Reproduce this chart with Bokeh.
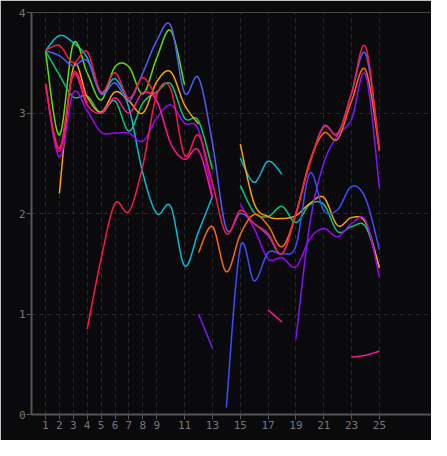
import numpy as np
from bokeh.plotting import figure
from bokeh.models import FixedTicker, Range1d
from bokeh.embed import file_html
from bokeh.resources import INLINE

N = None
x_vals = list(range(1, 26))
x_ticks = [1, 2, 3, 4, 5, 6, 7, 8, 9, 11, 13, 15, 17, 19, 21, 23, 25]
y_ticks = [0, 1, 2, 3, 4]

red_a = [3.62, 3.67, 3.50, 3.61, 3.21, 3.40, 3.15, 3.35, 3.15, N, N, N, N, N, N, N, N, N, N, N, N, N, N, N, N]
red_b = [3.29, 2.62, 3.40, 3.10, N, N, N, N, N, N, N, N, N, N, N, N, N, N, N, N, N, N, N, N, N]
red_c = [N, N, N, 0.85, 1.55, 2.10, 2.02, 2.48, 3.18, 3.24, 2.58, 2.78, 2.30, 1.80, 2.03, 1.90, 1.80, 1.60, 2.00, 2.50, 2.86, 2.80, 3.20, 3.66, 2.62]
blue_a = [3.62, 3.57, 3.47, 3.52, 3.19, 3.30, 3.12, 3.40, 3.72, 3.87, 3.20, 3.35, 2.70, 1.85, 2.00, 1.90, 1.78, 1.60, 2.00, 2.50, 2.87, 2.79, 3.20, 3.59, 2.65]
blue_b = [N, N, N, N, N, N, N, N, N, N, N, N, N, 0.07, 1.66, 1.33, 1.61, 1.60, 1.68, 2.40, 2.03, 2.04, 2.27, 2.15, 1.64]
cyan = [3.62, 3.77, 3.70, 3.55, 3.20, 3.34, 3.05, 2.40, 2.00, 2.07, 1.48, 1.82, 2.17, N, 2.55, 2.31, 2.52, 2.39, N, N, N, N, N, N, N]
lime = [3.62, 2.78, 3.69, 3.40, 3.13, 3.46, 3.46, 3.19, 3.55, 3.82, 3.28, N, N, N, N, N, N, N, N, N, N, N, N, N, N]
teal = [3.62, 3.38, 3.16, 3.17, 3.00, 3.12, 2.82, 3.10, 3.21, 3.29, 2.95, 2.92, 2.44, N, 2.28, 2.01, 1.97, 2.07, 1.91, 2.09, 2.09, 1.82, 1.87, 1.87, 1.46]
orange = [N, 2.20, 3.45, 3.16, 3.01, 3.21, 3.12, 3.00, 3.31, 3.41, 3.08, 2.89, N, N, 2.69, 2.10, 1.97, 1.95, 1.98, 2.10, 2.16, 1.88, 1.96, 1.91, 1.46]
purple = [3.29, 2.56, 3.20, 3.02, 2.81, 2.80, 2.80, 2.72, 2.95, 3.08, 2.90, 2.83, 2.17, N, 2.09, 1.85, 1.55, 1.56, 1.47, 1.75, 1.85, 1.77, 1.90, 1.93, 1.37]
magenta = [3.29, 2.65, 3.38, 3.08, 3.00, 3.15, 3.00, 3.20, 3.12, 2.70, 2.54, 2.63, 2.15, N, N, N, 1.04, 0.92, N, N, N, N, 0.57, 0.59, 0.63]
violet = [N, N, N, N, N, N, N, N, N, N, N, 1.00, 0.66, N, N, N, N, N, 0.75, 1.90, 2.50, 2.78, 2.94, 3.38, 2.25]
dark_orange = [N, N, N, N, N, N, N, N, N, N, N, 1.61, 1.87, 1.42, 1.79, 1.99, 1.88, 1.67, 2.00, 2.52, 2.80, 2.74, 3.12, 3.43, 2.62]

series = [
    (cyan, "#00bcd4"),
    (lime, "#5ee000"),
    (teal, "#00c97a"),
    (orange, "#ffa000"),
    (purple, "#a000ff"),
    (violet, "#7c16ff"),
    (blue_b, "#3d4dff"),
    (blue_a, "#4f5cff"),
    (dark_orange, "#ff6a00"),
    (magenta, "#ff149a"),
    (red_b, "#ff1744"),
    (red_c, "#ff1744"),
    (red_a, "#ff1744"),
]


def catmull(xs, ys, n=24):
    px = [xs[0]] + list(xs) + [xs[-1]]
    py = [ys[0]] + list(ys) + [ys[-1]]
    ox, oy = [], []
    for i in range(1, len(px) - 2):
        p0x, p1x, p2x, p3x = px[i - 1], px[i], px[i + 1], px[i + 2]
        p0y, p1y, p2y, p3y = py[i - 1], py[i], py[i + 1], py[i + 2]
        t = np.linspace(0, 1, n, endpoint=(i == len(px) - 3))
        t2, t3 = t * t, t * t * t
        cx = 0.5 * ((2 * p1x) + (-p0x + p2x) * t + (2 * p0x - 5 * p1x + 4 * p2x - p3x) * t2 + (-p0x + 3 * p1x - 3 * p2x + p3x) * t3)
        cy = 0.5 * ((2 * p1y) + (-p0y + p2y) * t + (2 * p0y - 5 * p1y + 4 * p2y - p3y) * t2 + (-p0y + 3 * p1y - 3 * p2y + p3y) * t3)
        ox.extend(cx.tolist())
        oy.extend(cy.tolist())
    return ox, oy


def runs(values):
    out, cur = [], []
    for xv, yv in zip(x_vals, values):
        if yv is None:
            if len(cur) > 1:
                out.append(cur)
            cur = []
        else:
            cur.append((xv, yv))
    if len(cur) > 1:
        out.append(cur)
    return out


bg = "#0a0a0d"
p = figure(width=431, height=440, output_backend="svg", toolbar_location=None,
           x_range=Range1d(0, 28.74), y_range=Range1d(0, 4),
           min_border_left=31, min_border_right=0, min_border_top=12, min_border_bottom=26)
p.background_fill_color = bg
p.border_fill_color = bg
p.outline_line_color = None

for vals, col in series:
    for r in runs(vals):
        xs, ys = catmull([a for a, b in r], [b for a, b in r])
        p.line(xs, ys, line_color=col, line_width=1.5)

for ax in (p.xaxis[0], p.yaxis[0]):
    ax.axis_line_color = "#555555"
    ax.axis_line_width = 2
    ax.major_tick_line_color = "#555555"
    ax.major_tick_in = 0
    ax.major_tick_out = 5
    ax.minor_tick_line_color = None
    ax.major_label_text_color = "#777777"
    ax.major_label_text_font = "DejaVu Sans Mono"
    ax.major_label_text_font_size = "11px"
    ax.major_label_standoff = 1
p.xaxis[0].ticker = FixedTicker(ticks=x_ticks)
p.yaxis[0].ticker = FixedTicker(ticks=y_ticks)

for g in (p.xgrid[0], p.ygrid[0]):
    g.grid_line_color = "#2a2a2e"
    g.grid_line_dash = "4 4"
    g.grid_line_width = 1
p.xgrid[0].ticker = FixedTicker(ticks=x_ticks)
p.ygrid[0].ticker = FixedTicker(ticks=y_ticks)

open("out.html", "w").write(file_html(p, INLINE))
